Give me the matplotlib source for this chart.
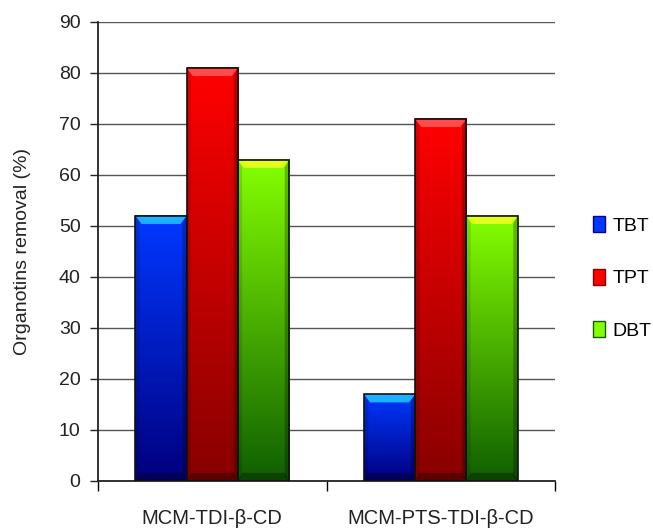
import numpy as np
import matplotlib.pyplot as plt
from matplotlib.colors import LinearSegmentedColormap
from matplotlib.patches import Patch, Polygon

plt.rcParams['font.family'] = ['Liberation Sans', 'DejaVu Sans']

categories = ["MCM-TDI-\u03b2-CD", "MCM-PTS-TDI-\u03b2-CD"]
series = ["TBT", "TPT", "DBT"]
tbt = [52, 17]
tpt = [81, 71]
dbt = [63, 52]
values = [tbt, tpt, dbt]

# top, bottom and bevel colours for each series
tops = ["#0038ff", "#ff0000", "#84ff00"]
bottoms = ["#000080", "#880000", "#106000"]
bevels = ["#22c8ff", "#ff5a5a", "#f6ff20"]

fig = plt.figure(figsize=(6.53, 5.31), dpi=100)
ax = fig.add_axes([0.150, 0.0942, 0.700, 0.8644])

x = np.arange(len(categories)) + 0.5
w = 0.224
ax.set_xlim(0, 2)
ax.set_ylim(0, 90)

for i, (vals, top, bot, bev) in enumerate(zip(values, tops, bottoms, bevels)):
    bars = ax.bar(x + (i - 1) * w, vals, w, facecolor="none",
                  edgecolor="#111111", linewidth=1.2, zorder=4)
    cmap = LinearSegmentedColormap.from_list("g%d" % i, [bot, top])
    for b in bars:
        x0, h, bw = b.get_x(), b.get_height(), b.get_width()
        grad = np.linspace(1, 0, 64).reshape(-1, 1)
        ax.imshow(grad, cmap=cmap, aspect="auto", zorder=3,
                  extent=(x0, x0 + bw, 0, h), interpolation="bicubic")
        # bevel along the top edge
        d = 1.6
        dx = bw * 0.12
        ax.add_patch(Polygon([(x0, h), (x0 + bw, h), (x0 + bw - dx, h - d),
                              (x0 + dx, h - d)], closed=True,
                             facecolor=bev, edgecolor="none", alpha=0.85, zorder=3.5))
        # darker strips on the sides and bottom
        ax.add_patch(Polygon([(x0 + bw, h), (x0 + bw, 0), (x0 + bw - dx * 0.7, 0.8),
                              (x0 + bw - dx * 0.7, h - d)], closed=True,
                             facecolor="black", edgecolor="none", alpha=0.25, zorder=3.5))
        ax.add_patch(Polygon([(x0, h), (x0, 0), (x0 + dx * 0.7, 0.8),
                              (x0 + dx * 0.7, h - d)], closed=True,
                             facecolor="black", edgecolor="none", alpha=0.12, zorder=3.5))
        ax.add_patch(Polygon([(x0, 0), (x0 + bw, 0), (x0 + bw - dx * 0.7, 1.6),
                              (x0 + dx * 0.7, 1.6)], closed=True,
                             facecolor="black", edgecolor="none", alpha=0.3, zorder=3.5))

ax.set_yticks(np.arange(0, 91, 10))
ax.yaxis.grid(True, color="#555555", linewidth=1.0)
ax.set_axisbelow(True)
ax.tick_params(axis="y", labelsize=14, length=5.5, width=1, pad=7, colors="#222222")

ax.set_xticks([0, 1, 2])
ax.set_xticklabels([])
ax.set_xticks(x, minor=True)
ax.set_xticklabels(categories, minor=True, fontsize=14.5, color="#222222")
ax.tick_params(axis="x", which="major", length=7, width=1, direction="out")
ax.tick_params(axis="x", which="minor", length=0, pad=20.5)

for s in ["top", "right"]:
    ax.spines[s].set_visible(False)
for s in ["left", "bottom"]:
    ax.spines[s].set_color("#222222")
    ax.spines[s].set_linewidth(1.3)

ax.set_ylabel("Organotins removal (%)", fontsize=14, color="#222222")
ax.yaxis.set_label_coords(-0.147, 0.5)

handles = [Patch(facecolor=t, edgecolor=b, linewidth=1) for t, b in zip(tops, bottoms)]
fig.legend(handles, series, loc="center left", bbox_to_anchor=(593 / 653, 1 - 278 / 531),
           frameon=False, fontsize=14, handlelength=0.62, handleheight=0.88,
           handletextpad=0.4, labelspacing=1.75, borderpad=0, borderaxespad=0)

fig.savefig("out.png", dpi=100)
